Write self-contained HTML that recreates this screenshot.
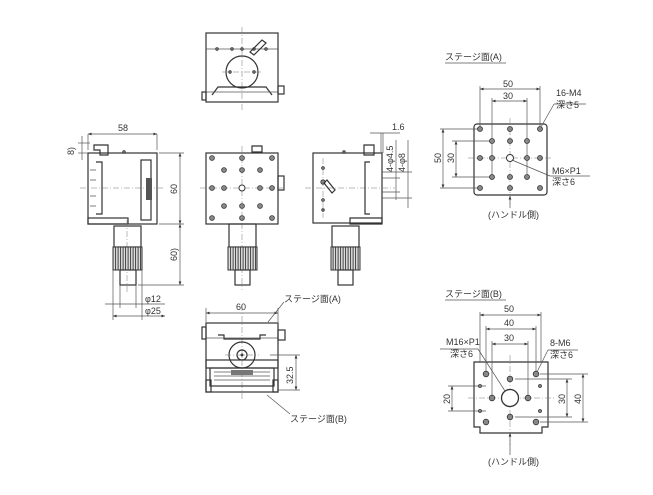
<!DOCTYPE html>
<html><head><meta charset="utf-8"><style>
html,body{margin:0;padding:0;background:#fff;width:653px;height:495px;overflow:hidden}
svg{display:block}
text{font-family:"Liberation Sans","Noto Sans CJK JP",sans-serif;fill:#333;font-size:9px}
.l{stroke:#333;stroke-width:1.2;fill:none}
.t{stroke:#555;stroke-width:.7;fill:none}
.c{stroke:#777;stroke-width:.5;fill:none;stroke-dasharray:6 2 1 2}
.h{fill:#888;stroke:#333;stroke-width:.8}
</style></head><body>
<svg width="653" height="495" viewBox="0 0 653 495">
<defs>
<marker id="a" markerWidth="6" markerHeight="6" refX="5" refY="3" orient="auto-start-reverse"><path d="M0,1 L5,3 L0,5Z" fill="#333"/></marker>
<pattern id="k" width="2.5" height="4" patternUnits="userSpaceOnUse"><rect width="2.5" height="4" fill="#ddd"/><line x1="0.6" y1="0" x2="0.6" y2="4" stroke="#333" stroke-width=".9"/></pattern>
</defs>

<!-- TOP VIEW -->
<rect class="l" x="206" y="33" width="72" height="69"/>
<line class="t" x1="206" y1="49" x2="278" y2="49"/>
<line class="c" x1="242" y1="27" x2="242" y2="110"/>
<circle class="l" cx="242" cy="72" r="16"/>
<line class="c" x1="222" y1="72" x2="262" y2="72"/>
<circle class="h" cx="230" cy="72" r="1.3"/><circle class="h" cx="254" cy="72" r="1.3"/>
<circle class="h" cx="217" cy="49" r="1.3"/><circle class="h" cx="232" cy="49" r="1.3"/><circle class="h" cx="242" cy="49" r="1.3"/><circle class="h" cx="254" cy="49" r="1.3"/><circle class="h" cx="266" cy="49" r="1.3"/>
<path class="l" d="M250,52 L262,40 L266,43 L254,55Z"/>
<path class="l" d="M212,95 L218,87 L266,87 L272,95"/>
<line class="t" x1="206" y1="92" x2="278" y2="92"/>
<rect class="l" x="278" y="86" width="6" height="8"/>
<rect class="l" x="202" y="92" width="4" height="8"/>

<!-- LEFT VIEW -->
<rect class="l" x="88" y="153" width="69" height="71"/>
<line class="c" x1="80" y1="188" x2="165" y2="188"/>
<path class="l" d="M94,145 h14 v10 h-8 v-5 h-6z"/>
<path class="l" d="M96,162 h6 v52 h-6"/>
<path class="t" d="M90,170 h6 M90,180 h6 M90,196 h6 M90,206 h6"/>
<rect class="l" x="141" y="160" width="10" height="60" fill="#eee"/>
<rect x="146" y="178" width="6" height="22" fill="#555"/>
<rect class="l" x="88" y="218" width="40" height="6"/>
<circle class="h" cx="124" cy="152" r="1.3"/>
<rect class="l" x="114" y="226" width="27" height="21"/>
<line class="c" x1="127" y1="220" x2="127" y2="292"/>
<rect x="113" y="247" width="29" height="23" fill="url(#k)" stroke="#333" stroke-width="1"/>
<rect class="l" x="120" y="270" width="16" height="15"/>
<line class="t" x1="88" y1="134" x2="88" y2="150"/><line class="t" x1="157" y1="134" x2="157" y2="150"/>
<line class="t" x1="88" y1="134" x2="157" y2="134" marker-start="url(#a)" marker-end="url(#a)"/>
<text x="118" y="131">58</text>
<line class="t" x1="159" y1="153" x2="184" y2="153"/><line class="t" x1="159" y1="224" x2="184" y2="224"/><line class="t" x1="138" y1="285" x2="184" y2="285"/>
<line class="t" x1="180" y1="153" x2="180" y2="224" marker-start="url(#a)" marker-end="url(#a)"/>
<line class="t" x1="180" y1="224" x2="180" y2="285" marker-start="url(#a)" marker-end="url(#a)"/>
<text transform="translate(177,194) rotate(-90)">60</text>
<text transform="translate(177,261) rotate(-90)">60)</text>
<line class="t" x1="78" y1="143" x2="90" y2="143"/><line class="t" x1="78" y1="153" x2="88" y2="153"/>
<line class="t" x1="82" y1="136" x2="82" y2="160"/>
<text transform="translate(74,155) rotate(-90)">8)</text>
<line class="t" x1="120" y1="285" x2="120" y2="308"/><line class="t" x1="136" y1="285" x2="136" y2="308"/>
<line class="t" x1="113" y1="270" x2="113" y2="320"/><line class="t" x1="142" y1="270" x2="142" y2="320"/>
<line class="t" x1="105" y1="304" x2="165" y2="304"/>
<line class="t" x1="113" y1="316" x2="165" y2="316" marker-start="url(#a)" marker-end="url(#a)"/>
<text x="145" y="302">φ12</text><text x="145" y="314">φ25</text>

<!-- CENTER VIEW -->
<rect class="l" x="206" y="153" width="72" height="71"/>
<line class="c" x1="242" y1="146" x2="242" y2="290"/>
<line class="c" x1="200" y1="188" x2="284" y2="188"/>
<path class="l" d="M252,146 h10 v6 h-10z"/>
<rect class="l" x="278" y="176" width="6" height="14"/>
<g class="h">
<circle cx="212" cy="158" r="2.4"/><circle cx="242" cy="158" r="2.4"/><circle cx="272" cy="158" r="2.4"/>
<circle cx="224" cy="170" r="2.4"/><circle cx="242" cy="170" r="2.4"/><circle cx="260" cy="170" r="2.4"/>
<circle cx="212" cy="188" r="2.4"/><circle cx="224" cy="188" r="2.4"/><circle cx="260" cy="188" r="2.4"/><circle cx="272" cy="188" r="2.4"/>
<circle cx="224" cy="206" r="2.4"/><circle cx="242" cy="206" r="2.4"/><circle cx="260" cy="206" r="2.4"/>
<circle cx="212" cy="218" r="2.4"/><circle cx="242" cy="218" r="2.4"/><circle cx="272" cy="218" r="2.4"/>
</g>
<circle cx="242" cy="188" r="3" fill="#fff" stroke="#333"/>
<rect class="l" x="229" y="224" width="27" height="23"/>
<rect x="228" y="247" width="29" height="23" fill="url(#k)" stroke="#333" stroke-width="1"/>
<rect class="l" x="235" y="270" width="15" height="15"/>

<!-- RIGHT VIEW -->
<rect class="l" x="313" y="153" width="69" height="70"/>
<line class="c" x1="305" y1="188" x2="395" y2="188"/>
<path class="l" d="M364,145 h10 v10 h-10z"/>
<path class="l" d="M370,162 h-5 v52 h5"/>
<path class="l" d="M350,218 h32 v6 h-32z"/>
<line class="c" x1="323" y1="158" x2="323" y2="218"/>
<circle class="h" cx="323" cy="168" r="1.4"/><circle class="h" cx="323" cy="182" r="2.2"/><circle class="h" cx="323" cy="200" r="1.4"/><circle class="h" cx="323" cy="210" r="1.3"/>
<path class="l" d="M324,183 L332,193 L335,190 L327,180Z"/>
<circle class="h" cx="344" cy="152" r="1.3"/>
<rect class="l" x="332" y="226" width="27" height="21"/>
<rect x="331" y="247" width="29" height="23" fill="url(#k)" stroke="#333" stroke-width="1"/>
<rect class="l" x="338" y="270" width="15" height="15"/>
<line class="t" x1="381" y1="133" x2="381" y2="153"/><line class="t" x1="383" y1="133" x2="383" y2="153"/>
<line class="t" x1="370" y1="133" x2="400" y2="133"/>
<text x="392" y="130">1.6</text>
<line class="t" x1="382" y1="172" x2="412" y2="172"/><line class="t" x1="382" y1="178" x2="400" y2="178"/><line class="t" x1="382" y1="198" x2="412" y2="198"/><line class="t" x1="382" y1="192" x2="400" y2="192"/>
<line class="t" x1="396" y1="140" x2="396" y2="200"/>
<line class="t" x1="408" y1="140" x2="408" y2="208"/>
<text transform="translate(393,172) rotate(-90)">4-φ4.5</text>
<text transform="translate(405,172) rotate(-90)">4-φ8</text>

<!-- BOTTOM VIEW -->
<rect class="l" x="206" y="323" width="72" height="69"/>
<line class="c" x1="242" y1="305" x2="242" y2="400"/>
<line class="t" x1="206" y1="308" x2="206" y2="322"/><line class="t" x1="278" y1="308" x2="278" y2="322"/>
<line class="t" x1="206" y1="313" x2="278" y2="313" marker-start="url(#a)" marker-end="url(#a)"/>
<text x="236" y="310">60</text>
<path class="l" d="M218,335 h6 v4 h36 v-4 h6"/>
<line class="t" x1="206" y1="338" x2="278" y2="338"/>
<rect class="l" x="278" y="330" width="7" height="10"/>
<rect class="l" x="202" y="327" width="4" height="12"/>
<circle class="l" cx="242" cy="355" r="13"/>
<circle class="l" cx="242" cy="355" r="5"/>
<circle cx="242" cy="355" r="1.5" fill="#333"/>
<line class="c" x1="225" y1="355" x2="259" y2="355"/>
<rect class="l" x="206" y="360" width="72" height="8"/>
<rect class="l" x="210" y="368" width="64" height="18" fill="#f3f3f3"/>
<path class="t" d="M214,372 h56 M214,376 h56 M214,380 h56"/>
<rect x="231" y="370" width="22" height="5" fill="#777"/>
<rect class="l" x="206" y="380" width="5" height="12" fill="#bbb"/><rect class="l" x="273" y="380" width="5" height="12" fill="#bbb"/>
<line class="t" x1="270" y1="355" x2="300" y2="355"/><line class="t" x1="278" y1="390" x2="300" y2="390"/>
<line class="t" x1="296" y1="355" x2="296" y2="390" marker-start="url(#a)" marker-end="url(#a)"/>
<text transform="translate(293,384) rotate(-90)">32.5</text>
<line class="t" x1="268" y1="322" x2="284" y2="302"/>
<text x="284" y="302">ステージ面(A)</text>
<line class="t" x1="267" y1="395" x2="290" y2="414"/>
<text x="290" y="422">ステージ面(B)</text>

<!-- STAGE A -->
<text x="445" y="60">ステージ面(A)</text>
<line class="t" x1="445" y1="63" x2="506" y2="63"/>
<rect class="l" x="474" y="124" width="73" height="71" rx="3"/>
<line class="c" x1="510" y1="118" x2="510" y2="205"/>
<line class="c" x1="468" y1="158" x2="552" y2="158"/>
<g class="t"><line x1="480" y1="86" x2="480" y2="130"/><line x1="540" y1="86" x2="540" y2="130"/><line x1="492" y1="98" x2="492" y2="180"/><line x1="527" y1="98" x2="527" y2="180"/>
<line x1="440" y1="129" x2="480" y2="129"/><line x1="440" y1="188" x2="480" y2="188"/><line x1="452" y1="141" x2="492" y2="141"/><line x1="452" y1="177" x2="492" y2="177"/></g>
<line class="t" x1="480" y1="89" x2="540" y2="89" marker-start="url(#a)" marker-end="url(#a)"/>
<line class="t" x1="492" y1="101" x2="527" y2="101" marker-start="url(#a)" marker-end="url(#a)"/>
<line class="t" x1="443" y1="129" x2="443" y2="188" marker-start="url(#a)" marker-end="url(#a)"/>
<line class="t" x1="456" y1="141" x2="456" y2="177" marker-start="url(#a)" marker-end="url(#a)"/>
<text x="503" y="87">50</text><text x="503" y="99">30</text>
<text transform="translate(441,163) rotate(-90)">50</text><text transform="translate(454,163) rotate(-90)">30</text>
<g class="h">
<circle cx="480" cy="129" r="2.5"/><circle cx="510" cy="129" r="2.5"/><circle cx="540" cy="129" r="2.5"/>
<circle cx="492" cy="141" r="2.5"/><circle cx="510" cy="141" r="2.5"/><circle cx="527" cy="141" r="2.5"/>
<circle cx="480" cy="158" r="2.5"/><circle cx="492" cy="158" r="2.5"/><circle cx="527" cy="158" r="2.5"/><circle cx="540" cy="158" r="2.5"/>
<circle cx="492" cy="177" r="2.5"/><circle cx="510" cy="177" r="2.5"/><circle cx="527" cy="177" r="2.5"/>
<circle cx="480" cy="188" r="2.5"/><circle cx="510" cy="188" r="2.5"/><circle cx="540" cy="188" r="2.5"/>
</g>
<circle cx="510" cy="158" r="3.5" fill="#fff" stroke="#333"/>
<line class="t" x1="541" y1="127" x2="554" y2="104"/><line class="t" x1="554" y1="104" x2="586" y2="104"/>
<text x="556" y="96">16-M4</text><text x="556" y="108">深さ5</text>
<line class="t" x1="512" y1="160" x2="550" y2="176"/><line class="t" x1="550" y1="176" x2="590" y2="176"/>
<text x="552" y="174">M6×P1</text><text x="552" y="185">深さ6</text>
<line class="t" x1="510" y1="196" x2="510" y2="208" marker-start="url(#a)"/>
<text x="488" y="218">(ハンドル側)</text>

<!-- STAGE B -->
<text x="445" y="297">ステージ面(B)</text>
<line class="t" x1="445" y1="300" x2="506" y2="300"/>
<path class="l" d="M474,362 h74 v65 h-6 v6 h-62 v-6 h-6z"/>
<line class="c" x1="510" y1="355" x2="510" y2="445"/>
<line class="c" x1="468" y1="398" x2="555" y2="398"/>
<g class="t"><line x1="480" y1="312" x2="480" y2="362"/><line x1="541" y1="312" x2="541" y2="362"/><line x1="486" y1="326" x2="486" y2="374"/><line x1="536" y1="326" x2="536" y2="374"/><line x1="492" y1="341" x2="492" y2="398"/><line x1="528" y1="341" x2="528" y2="398"/>
<line x1="448" y1="386" x2="486" y2="386"/><line x1="448" y1="411" x2="486" y2="411"/>
<line x1="515" y1="379" x2="572" y2="379"/><line x1="515" y1="417" x2="572" y2="417"/><line x1="540" y1="374" x2="588" y2="374"/><line x1="540" y1="422" x2="588" y2="422"/></g>
<line class="t" x1="480" y1="315" x2="541" y2="315" marker-start="url(#a)" marker-end="url(#a)"/>
<line class="t" x1="486" y1="329" x2="536" y2="329" marker-start="url(#a)" marker-end="url(#a)"/>
<line class="t" x1="492" y1="344" x2="528" y2="344" marker-start="url(#a)" marker-end="url(#a)"/>
<line class="t" x1="452" y1="386" x2="452" y2="411" marker-start="url(#a)" marker-end="url(#a)"/>
<line class="t" x1="567" y1="379" x2="567" y2="417" marker-start="url(#a)" marker-end="url(#a)"/>
<line class="t" x1="583" y1="374" x2="583" y2="422" marker-start="url(#a)" marker-end="url(#a)"/>
<text x="504" y="312">50</text><text x="504" y="326">40</text><text x="504" y="341">30</text>
<text transform="translate(450,404) rotate(-90)">20</text><text transform="translate(565,404) rotate(-90)">30</text><text transform="translate(581,404) rotate(-90)">40</text>
<g class="h">
<circle cx="486" cy="374" r="2.8"/><circle cx="536" cy="374" r="2.8"/><circle cx="486" cy="422" r="2.8"/><circle cx="536" cy="422" r="2.8"/>
<circle cx="510" cy="379" r="2.8"/><circle cx="510" cy="417" r="2.8"/><circle cx="492" cy="398" r="2.8"/><circle cx="528" cy="398" r="2.8"/>
<circle cx="480" cy="386" r="1.5"/><circle cx="540" cy="386" r="1.5"/><circle cx="480" cy="411" r="1.5"/><circle cx="540" cy="411" r="1.5"/>
</g>
<circle cx="510" cy="398" r="8.5" fill="#fff" stroke="#333" stroke-width="1.3"/>
<line class="t" x1="440" y1="349" x2="478" y2="349"/><line class="t" x1="478" y1="349" x2="505" y2="391"/>
<text x="446" y="345">M16×P1</text><text x="450" y="357">深さ6</text>
<line class="t" x1="537" y1="372" x2="548" y2="350"/><line class="t" x1="548" y1="350" x2="578" y2="350"/>
<text x="550" y="346">8-M6</text><text x="550" y="358">深さ6</text>
<line class="t" x1="510" y1="433" x2="510" y2="455" marker-start="url(#a)"/>
<text x="488" y="465">(ハンドル側)</text>
</svg>
</body></html>
